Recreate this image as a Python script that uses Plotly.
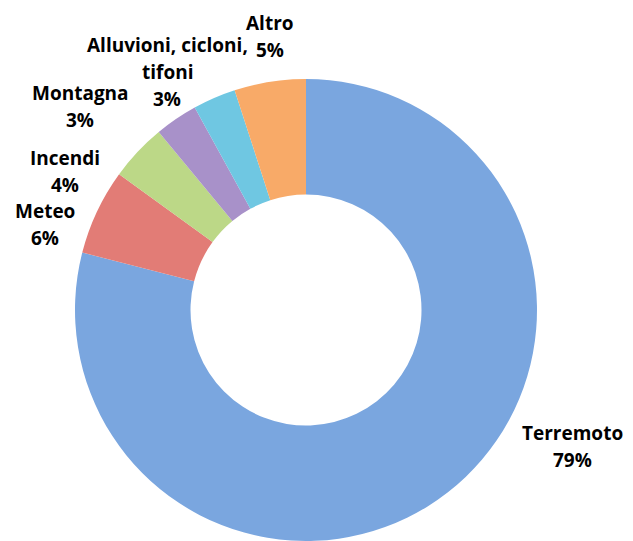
import plotly.graph_objects as go

# Data
labels = ['Terremoto', 'Meteo', 'Incendi', 'Montagna', 'Alluvioni, cicloni,<br>tifoni', 'Altro']
values = [79, 6, 4, 3, 3, 5]
colors = ['#7aa6df', '#e27c76', '#bcd887', '#a891c9', '#6fc7e2', '#f8aa68']

# the html body adds an 8px margin, so the figure is 8px smaller and everything is shifted
W, H = 625, 533
OFF = 8

# label centre x and first line centre y, in window pixels
label_pos = [(572, 433), (45, 211), (65, 158), (80, 93), (167, 45), (270, 23)]
LINE = 27

fig = go.Figure()
fig.add_trace(go.Pie(labels=labels, values=values,
                     hole=0.5, sort=False, direction='clockwise', rotation=0,
                     marker=dict(colors=colors, line=dict(width=0)),
                     textinfo='none', hoverinfo='label+percent',
                     domain=dict(x=[(306 - OFF - 235) / W, (306 - OFF + 235) / W],
                                 y=[0, 462 / H])))

# Labels placed around the donut, one annotation per line
for lab, val, (px, py) in zip(labels, values, label_pos):
    lines = lab.split('<br>') + [str(val) + '%']
    for i, txt in enumerate(lines):
        fig.add_annotation(x=(px - OFF) / W, y=1 - (py + i * LINE - OFF) / H,
                           xref='paper', yref='paper',
                           text='<b>' + txt + '</b>',
                           showarrow=False, xanchor='center', yanchor='middle',
                           font=dict(family='Open Sans', size=19, color='#000000'))

fig.update_layout(width=W, height=H, showlegend=False,
                  margin=dict(l=0, r=0, t=0, b=0),
                  paper_bgcolor='#ffffff', plot_bgcolor='#ffffff')

fig.write_html("out.html")
